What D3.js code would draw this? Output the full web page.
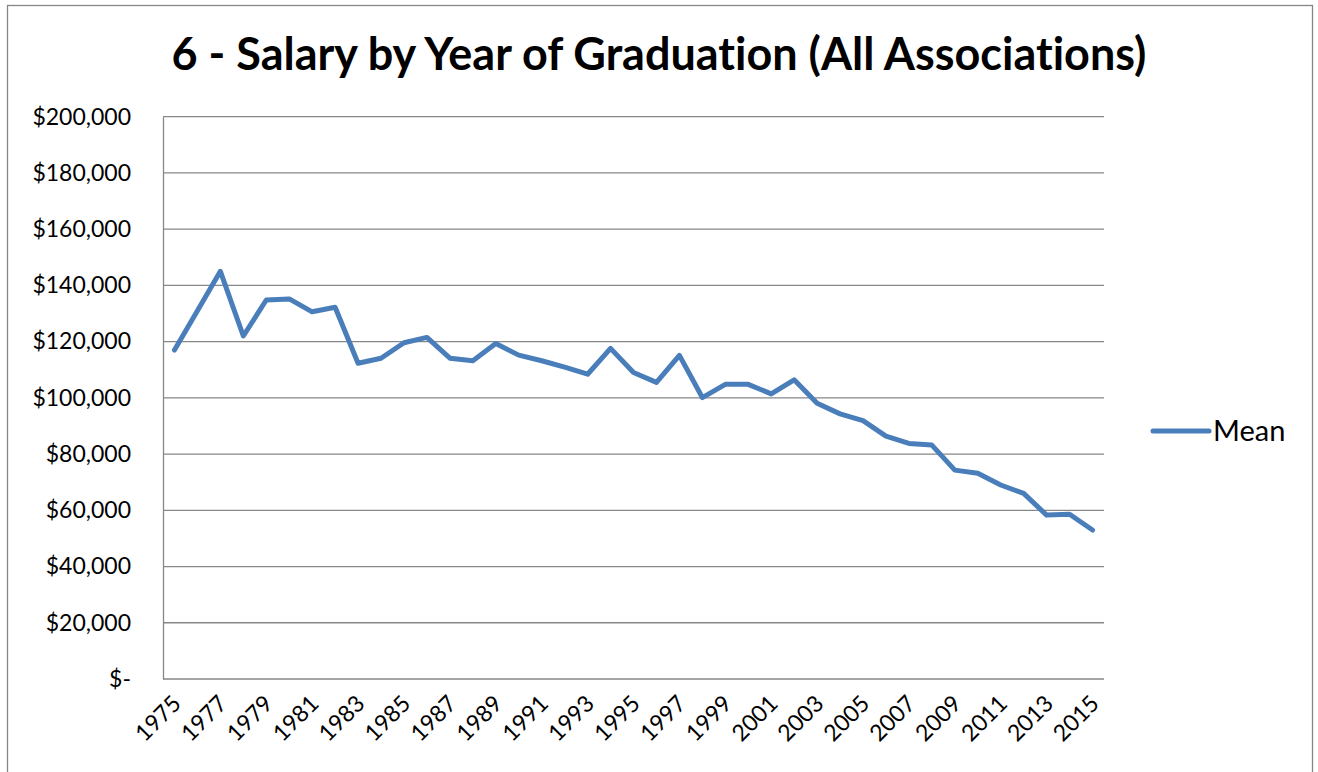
<!DOCTYPE html>
<html lang="en">
<head>
<meta charset="utf-8">
<title>Salary by Year of Graduation</title>
<script src="https://d3js.org/d3.v7.min.js"></script>
<style>
  body { margin: 0; background: #fff; }
  svg { display: block; }
  .axis text { font: 23px Lato, "Open Sans", sans-serif; fill: #000; }
  .title { font: bold 36px Lato, "Open Sans", sans-serif; fill: #000; font-variant-ligatures: none; }
  .legend { font: 29px Lato, "Open Sans", sans-serif; fill: #000; }
</style>
</head>
<body>
<svg id="chart" width="1318" height="772"></svg>
<script>
// data
var years = d3.range(1975, 2016).map(String);
var meanSalary = [
  117000, 131000, 145000, 122000, 134800, 135200, 130600, 132200, 112300, 114100,
  119600, 121500, 114100, 113200, 119300, 115200, 113200, 110900, 108400, 117600,
  109000, 105500, 115100, 100100, 104800, 104800, 101400, 106400, 98100, 94300,
  91900, 86400, 83800, 83200, 74300, 73200, 69000, 66000, 58300, 58600, 53000
];
var yTicks = [0, 20000, 40000, 60000, 80000, 100000, 120000, 140000, 160000, 180000, 200000];
var xTickLabels = years.filter(function(d, i) { return i % 2 === 0; });
var seriesName = "Mean";
var titleText = "6 - Salary by Year of Graduation (All Associations)";

var margin = {top: 116.7, right: 214, bottom: 93, left: 163},
    width = 1318 - margin.left - margin.right,
    height = 679 - margin.top;

var svg = d3.select("#chart");

// outer chart frame
svg.append("rect")
  .attr("x", 7.5).attr("y", 5.5)
  .attr("width", 1305).attr("height", 800)
  .attr("fill", "none")
  .attr("stroke", "#868686")
  .attr("stroke-width", 1.3);

var x = d3.scaleBand().domain(years).range([0, width]);
var y = d3.scaleLinear().domain([0, 200000]).range([height, 0]);

var g = svg.append("g").attr("transform", "translate(" + margin.left + "," + margin.top + ")");

// gridlines
g.append("g")
  .selectAll("line")
  .data(yTicks)
  .enter().append("line")
    .attr("x1", 0).attr("x2", width)
    .attr("y1", function(d) { return y(d); })
    .attr("y2", function(d) { return y(d); })
    .attr("stroke", "#878787")
    .attr("stroke-width", 1.3);

// y axis
var yAxis = g.append("g")
  .attr("class", "axis")
  .call(d3.axisLeft(y).tickValues(yTicks).tickSize(0).tickPadding(32)
    .tickFormat(function(d) { return d === 0 ? "$-" : "$" + d3.format(",")(d); }));
yAxis.select(".domain").attr("stroke", "#878787").attr("stroke-width", 1.3);

// x axis
var xAxis = g.append("g")
  .attr("class", "axis")
  .attr("transform", "translate(0," + height + ")")
  .call(d3.axisBottom(x).tickValues(xTickLabels).tickSize(0).tickPadding(0));
xAxis.select(".domain").remove();
xAxis.selectAll("text")
  .attr("text-anchor", "end")
  .attr("dy", "0")
  .attr("transform", "translate(8,26) rotate(-45)");

// the line
var line = d3.line()
  .x(function(d, i) { return x(years[i]) + x.bandwidth() / 2; })
  .y(function(d) { return y(d); });

g.append("path")
  .datum(meanSalary)
  .attr("fill", "none")
  .attr("stroke", "#4a7ebb")
  .attr("stroke-width", 5)
  .attr("stroke-linejoin", "round")
  .attr("stroke-linecap", "round")
  .attr("d", line);

// title
var title = svg.append("text")
  .attr("class", "title")
  .attr("x", 659)
  .attr("y", 70)
  .attr("text-anchor", "middle")
  .text(titleText);
var tw = title.node().getComputedTextLength();
title.style("font-size", (36 * 975 / tw) + "px");

// legend
var lg = svg.append("g").attr("transform", "translate(1153,431)");
lg.append("line")
  .attr("x1", 0).attr("x2", 56)
  .attr("stroke", "#4a7ebb")
  .attr("stroke-width", 5)
  .attr("stroke-linecap", "round");
lg.append("text")
  .attr("class", "legend")
  .attr("x", 60)
  .attr("dy", "0.35em")
  .text(seriesName);
</script>
</body>
</html>
